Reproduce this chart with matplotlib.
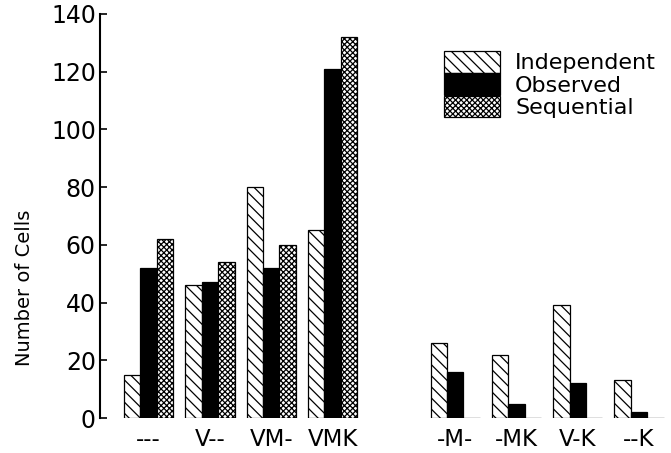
import matplotlib
matplotlib.use("Agg")
import matplotlib.pyplot as plt
from matplotlib.patches import Rectangle
import numpy as np

categories = ["---", "V--", "VM-", "VMK", "-M-", "-MK", "V-K", "--K"]
positions = [0, 1, 2, 3, 5, 6, 7, 8]
independent = [15, 46, 80, 65, 26, 22, 39, 13]
observed = [52, 47, 52, 121, 16, 5, 12, 2]
sequential = [62, 54, 60, 132, 0, 0, 0, 0]
series_names = ["Independent", "Observed", "Sequential"]
yticks = [0, 20, 40, 60, 80, 100, 120, 140]

plt.rcParams['font.family'] = ['DejaVu Sans']
plt.rcParams['hatch.linewidth'] = 0.9

W, H = 671, 453
fig = plt.figure(figsize=(W / 100, H / 100), dpi=100)
ax = fig.add_axes([100 / W, 35 / H, 565 / W, 404 / H])

x = np.array(positions, dtype=float)
w = 0.2675
styles = [
    dict(facecolor="white", hatch="\\\\\\"),
    dict(facecolor="black", hatch=None),
    dict(facecolor="white", hatch="xxxxxx"),
]
data = [independent, observed, sequential]
for k, (vals, st) in enumerate(zip(data, styles)):
    ax.bar(x + (k - 1) * w, vals, width=w, edgecolor="black", linewidth=0.9, **st)

ax.set_xlim(-0.794, 8.423)
ax.set_ylim(0, 140)
ax.set_yticks(yticks)
ax.set_xticks(x)
ax.set_xticklabels(categories)
ax.tick_params(axis="y", direction="in", length=5, width=1.2, labelsize=17, pad=3)
ax.tick_params(axis="x", length=0, labelsize=16.5, pad=7)
for s in ["top", "right", "bottom"]:
    ax.spines[s].set_visible(False)
ax.spines["left"].set_linewidth(1.5)

fig.text(25 / W, 1 - 288 / H, "Number of Cells", rotation=90, ha="center", va="center", fontsize=14)

handles = [Rectangle((0, 0), 1, 1, edgecolor="black", linewidth=0.9, **st) for st in styles]
leg = ax.legend(handles, series_names, loc="upper left",
                bbox_to_anchor=((444 - 100) / 565, (453 - 35 - 51) / 404),
                frameon=False, fontsize=16, labelspacing=0, handleheight=1.12, handlelength=2.5,
                handletextpad=0.7, borderpad=0, borderaxespad=0)

fig.savefig("out.png", dpi=100)
